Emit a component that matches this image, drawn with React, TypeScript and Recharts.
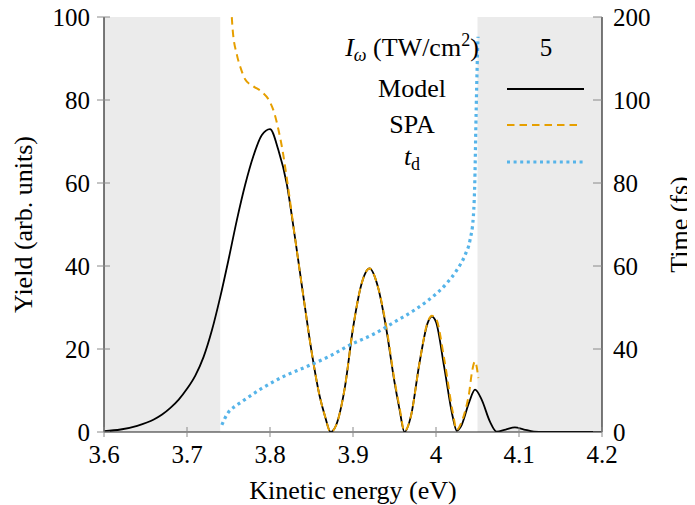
import React from "react";
import {
  ComposedChart,
  Line,
  XAxis,
  YAxis,
  ReferenceArea,
  Legend,
  Label,
} from "recharts";

// ---------- data ----------
const xTicks = [3.6, 3.7, 3.8, 3.9, 4.0, 4.1, 4.2];
const leftTicks = [0, 20, 40, 60, 80, 100];
const rightTicks = [0, 40, 80, 120, 160, 200];
const rightTickLabels = ["0", "40", "60", "80", "100", "200"];

const shadedRegions: [number, number][] = [
  [3.6, 3.74],
  [4.05, 4.2],
];

const modelEnergy = [
  3.6, 3.62, 3.64, 3.66, 3.67, 3.68, 3.69, 3.7, 3.71, 3.72, 3.73, 3.74, 3.75,
  3.76, 3.77, 3.78, 3.79, 3.8, 3.81, 3.82, 3.83, 3.84, 3.85, 3.86, 3.866,
  3.873, 3.88, 3.89, 3.9, 3.91, 3.92, 3.93, 3.94, 3.95, 3.956, 3.962, 3.97,
  3.98, 3.99, 3.995, 4.0, 4.01, 4.02, 4.025, 4.03, 4.04, 4.047, 4.055, 4.065,
  4.073, 4.084, 4.095, 4.106, 4.118, 4.13, 4.2,
];
const modelYield = [
  0.2, 0.6, 1.5, 3.0, 4.2, 5.8, 7.8, 10.4, 13.6, 18.1, 24.5, 32.5, 41.5, 51,
  59.5, 66.5, 71.5, 73, 68, 60, 47, 33, 19.5, 8.5, 4, 0, 1.8, 10.5, 25, 35.5,
  39.4, 35, 25, 12, 5.5, 0, 4, 16.5, 26.3, 27.8, 26.5, 15.5, 3.8, 0.3, 1.3,
  7.2, 10.2, 7.8, 2.5, 0.1, 0.6, 1.1, 0.6, 0.1, 0, 0,
];

const spaEnergy = [
  3.751, 3.755, 3.76, 3.765, 3.77, 3.78, 3.79, 3.8, 3.805, 3.81, 3.815, 3.82,
  3.83, 3.84, 3.85, 3.86, 3.866, 3.873, 3.88, 3.89, 3.9, 3.91, 3.92, 3.93,
  3.94, 3.95, 3.956, 3.962, 3.97, 3.98, 3.99, 3.995, 4.0, 4.01, 4.02, 4.025,
  4.03, 4.035, 4.04, 4.043, 4.047, 4.051,
];
const spaYield = [
  112, 97, 91, 87.5, 85, 83.3, 82, 79.5, 77, 73, 68, 61.5, 47, 33, 19.5, 8.5,
  4, 0, 1.8, 10.5, 25, 35.5, 39.4, 35, 25.5, 12.5, 6, 0.2, 4, 16.5, 26.5, 28,
  27.3, 17.5, 5, 0.5, 2, 5, 9.5, 14, 17, 13,
];

const tdEnergy = [
  3.742, 3.746, 3.75, 3.758, 3.766, 3.79, 3.816, 3.844, 3.872, 3.896, 3.924,
  3.95, 3.975, 3.991, 4.013, 4.025, 4.035, 4.041, 4.045, 4.047, 4.048, 4.049,
  4.05, 4.0506,
];
const tdTime = [
  3.4, 6.9, 9.6, 12.4, 14.6, 21, 26.7, 31.5, 36.6, 41.9, 47, 53, 59, 63.6,
  71.7, 78, 85.3, 92.5, 103.8, 124.8, 147, 166, 182.5, 190.5,
];

const modelData = modelEnergy.map((e, i) => ({ e, v: modelYield[i] }));
const spaData = spaEnergy.map((e, i) => ({ e, v: spaYield[i] }));
const tdData = tdEnergy.map((e, i) => ({ e, v: tdTime[i] }));

// ---------- styles ----------
const FONT = "'Liberation Serif', 'Times New Roman', serif";
const FS = 25;
const FS_WORD = 26;
const BLACK = "#000000";
const ORANGE = "#E69F00";
const BLUE = "#56B4E9";
const GRAY_FILL = "#ebebeb";
const TICK_COLOR = "#8a8a8a";
const AXIS_COLOR = "#222222";

const W = 687;
const H = 505;

const fmtX = (v: number) => String(Number(v.toFixed(1)));

const XTick = (props: any) => {
  const { x, y, payload } = props;
  return (
    <g>
      <line x1={x} x2={x} y1={y - 5} y2={y + 5} stroke={TICK_COLOR} strokeWidth={1} />
      <text x={x} y={y + 31} textAnchor="middle" fontFamily={FONT} fontSize={FS} fill={BLACK}>
        {fmtX(payload.value)}
      </text>
    </g>
  );
};

const LeftTick = (props: any) => {
  const { x, y, payload } = props;
  return (
    <g>
      <line x1={x - 7} x2={x + 6} y1={y} y2={y} stroke={TICK_COLOR} strokeWidth={1} />
      <text x={x - 14} y={y + 8.5} textAnchor="end" fontFamily={FONT} fontSize={FS} fill={BLACK}>
        {payload.value}
      </text>
    </g>
  );
};

const RightTick = (props: any) => {
  const { x, y, payload, index } = props;
  const idx = rightTicks.indexOf(payload.value);
  const label = rightTickLabels[idx >= 0 ? idx : index];
  return (
    <g>
      <line x1={x - 9} x2={x} y1={y} y2={y} stroke={TICK_COLOR} strokeWidth={1} />
      <text x={x + 11} y={y + 8.5} textAnchor="start" fontFamily={FONT} fontSize={FS} fill={BLACK}>
        {label}
      </text>
    </g>
  );
};

const LegendTable = () => {
  const cx = 404;
  return (
    <svg width={W} height={H} style={{ position: "absolute", left: 0, top: 0, overflow: "visible" }}>
      <g fontFamily={FONT} fontSize={FS_WORD} fill={BLACK}>
        <text x={cx} y={56} textAnchor="middle">
          <tspan fontStyle="italic">I</tspan>
          <tspan fontStyle="italic" fontSize={18} dy={5}>ω</tspan>
          <tspan dy={-5}>{" (TW/cm"}</tspan>
          <tspan fontSize={18} dy={-10}>2</tspan>
          <tspan dy={10}>)</tspan>
        </text>
        <text x={538} y={56} textAnchor="middle" fontSize={FS}>5</text>
        <text x={cx} y={97} textAnchor="middle">Model</text>
        <text x={cx} y={133} textAnchor="middle">SPA</text>
        <text x={cx} y={165} textAnchor="middle">
          <tspan fontStyle="italic">t</tspan>
          <tspan fontSize={18} dy={5}>d</tspan>
        </text>
      </g>
      <line x1={499} x2={576} y1={89} y2={89} stroke={BLACK} strokeWidth={1.8} />
      <line x1={499} x2={569} y1={125} y2={125} stroke={ORANGE} strokeWidth={2} strokeDasharray="7.5 5" />
      <line x1={499} x2={577} y1={162} y2={162} stroke={BLUE} strokeWidth={3.2} strokeDasharray="3 3.6" />
    </svg>
  );
};

export default function App() {
  return (
    <div style={{ width: W, height: H, position: "relative", marginTop: -8 }}>
      <ComposedChart width={W} height={H} margin={{ top: 17, right: 0, bottom: 0, left: 0 }}>
        {shadedRegions.map(([a, b], i) => (
          <ReferenceArea
            key={i}
            x1={a}
            x2={b}
            y1={0}
            y2={100}
            yAxisId="left"
            fill={GRAY_FILL}
            fillOpacity={1}
            stroke="none"
            ifOverflow="visible"
          />
        ))}
        <XAxis
          dataKey="e"
          type="number"
          domain={[3.6, 4.2]}
          ticks={xTicks}
          allowDataOverflow
          height={73}
          tickSize={0}
          tickMargin={0}
          tickLine={false}
          tick={XTick}
          interval={0}
          axisLine={{ stroke: AXIS_COLOR, strokeWidth: 1.2 }}
        >
          <Label
            content={(p: any) => {
              const vb = p.viewBox || {};
              return (
                <text
                  x={vb.x + vb.width / 2}
                  y={vb.y + vb.height - 6}
                  textAnchor="middle"
                  fontFamily={FONT}
                  fontSize={FS_WORD}
                  fill={BLACK}
                >
                  Kinetic energy (eV)
                </text>
              );
            }}
          />
        </XAxis>
        <YAxis
          yAxisId="left"
          width={96}
          domain={[0, 100]}
          ticks={leftTicks}
          allowDataOverflow
          tickSize={0}
          tickMargin={0}
          tickLine={false}
          tick={LeftTick}
          interval={0}
          axisLine={{ stroke: AXIS_COLOR, strokeWidth: 1.2 }}
        >
          <Label
            content={(p: any) => {
              const vb = p.viewBox || {};
              const cx = 24;
              const cy = vb.y + vb.height / 2;
              return (
                <text
                  x={cx}
                  y={cy}
                  transform={`rotate(-90, ${cx}, ${cy})`}
                  textAnchor="middle"
                  fontFamily={FONT}
                  fontSize={FS_WORD}
                  fill={BLACK}
                >
                  Yield (arb. units)
                </text>
              );
            }}
          />
        </YAxis>
        <YAxis
          yAxisId="right"
          orientation="right"
          width={93}
          domain={[0, 200]}
          ticks={rightTicks}
          allowDataOverflow
          tickSize={0}
          tickMargin={0}
          tickLine={false}
          tick={RightTick}
          interval={0}
          axisLine={{ stroke: AXIS_COLOR, strokeWidth: 1.2 }}
        >
          <Label
            content={(p: any) => {
              const vb = p.viewBox || {};
              const cx = 680;
              const cy = vb.y + vb.height / 2;
              return (
                <text
                  x={cx}
                  y={cy}
                  transform={`rotate(-90, ${cx}, ${cy})`}
                  textAnchor="middle"
                  fontFamily={FONT}
                  fontSize={FS_WORD}
                  fill={BLACK}
                >
                  Time (fs)
                </text>
              );
            }}
          />
        </YAxis>
        <Line
          data={modelData}
          dataKey="v"
          yAxisId="left"
          type="monotone"
          stroke={BLACK}
          strokeWidth={1.8}
          dot={false}
          activeDot={false}
          isAnimationActive={false}
          name="Model"
        />
        <Line
          data={spaData}
          dataKey="v"
          yAxisId="left"
          type="monotone"
          stroke={ORANGE}
          strokeWidth={2}
          strokeDasharray="7.5 5"
          dot={false}
          activeDot={false}
          isAnimationActive={false}
          name="SPA"
        />
        <Line
          data={tdData}
          dataKey="v"
          yAxisId="right"
          type="monotone"
          stroke={BLUE}
          strokeWidth={3.2}
          strokeDasharray="3 3.6"
          dot={false}
          activeDot={false}
          isAnimationActive={false}
          name="td"
        />
        <Legend
          layout="horizontal"
          verticalAlign="middle"
          align="center"
          wrapperStyle={{ position: "absolute", left: 0, top: 0, width: W, height: H, pointerEvents: "none" }}
          content={() => <LegendTable />}
        />
      </ComposedChart>
    </div>
  );
}
